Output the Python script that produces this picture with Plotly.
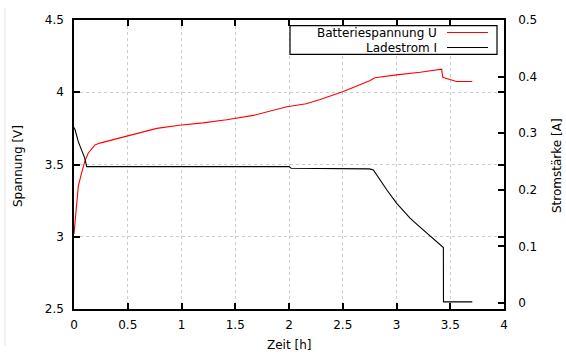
import plotly.graph_objects as go

# Data
zeit_u = [0.0, 0.01, 0.025, 0.04, 0.07, 0.10, 0.133, 0.165, 0.195, 0.24, 0.33, 0.43, 0.52,
          0.77, 0.98, 1.2, 1.42, 1.67, 1.98, 2.16, 2.29, 2.37, 2.505, 2.75, 2.80,
          3.0, 3.22, 3.42, 3.43, 3.48, 3.56, 3.705]
spannung = [3.02, 3.10, 3.23, 3.35, 3.44, 3.52, 3.58, 3.61, 3.635, 3.648, 3.665, 3.685, 3.70,
            3.75, 3.772, 3.788, 3.81, 3.84, 3.90, 3.92, 3.95, 3.972, 4.005, 4.08, 4.10,
            4.12, 4.138, 4.16, 4.103, 4.092, 4.074, 4.074]

zeit_i = [0.0, 0.01, 0.04, 0.07, 0.10, 0.118, 2.0, 2.02, 2.75, 2.785, 2.85, 2.909, 3.002,
          3.06, 3.126, 3.19, 3.25, 3.34, 3.436, 3.437, 3.705]
strom = [0.31, 0.306, 0.285, 0.27, 0.256, 0.241, 0.241, 0.238, 0.237, 0.235, 0.216, 0.200,
         0.176, 0.163, 0.150, 0.139, 0.129, 0.113, 0.098, 0.002, 0.002]

x_ticks = [0, 0.5, 1, 1.5, 2, 2.5, 3, 3.5, 4]
y_ticks = [2.5, 3, 3.5, 4, 4.5]
y2_ticks = [0, 0.1, 0.2, 0.3, 0.4, 0.5]
name_u = "Batteriespannung U"
name_i = "Ladestrom I"

W, H = 566, 354
L, R, T, B = 74, 62, 20, 45
pw, ph = W - L - R, H - T - B

def px(x):
    return (x - L) / pw

def py(y):
    return 1 - (y - T) / ph

FONT = "DejaVu Sans"

fig = go.Figure()
fig.add_trace(go.Scatter(x=zeit_u, y=spannung, mode="lines", name=name_u,
                         line=dict(color="#ff0000", width=1.1)))
fig.add_trace(go.Scatter(x=zeit_i, y=strom, mode="lines", name=name_i, yaxis="y2",
                         line=dict(color="#000000", width=1.1)))

axis_common = dict(showline=True, linecolor="black", linewidth=1.5, ticks="inside",
                   ticklen=6, tickwidth=1.5, tickcolor="black", zeroline=False,
                   tickfont=dict(family=FONT, size=12, color="black"))

fig.update_layout(
    width=W, height=H, margin=dict(l=L, r=R, t=T, b=B),
    paper_bgcolor="white", plot_bgcolor="white", showlegend=False,
    font=dict(family=FONT, size=12, color="black"),
    xaxis=dict(range=[0, 4], tickvals=x_ticks, ticktext=[f"{v:g}" for v in x_ticks],
               mirror="ticks", showgrid=True, gridcolor="#cccccc", griddash="dot",
               gridwidth=1, ticklabelstandoff=4, **axis_common),
    yaxis=dict(range=[2.5, 4.5], tickvals=y_ticks, ticktext=[f"{v:g}" for v in y_ticks],
               mirror="ticks", showgrid=True, gridcolor="#cccccc", griddash="dot",
               gridwidth=1, ticklabelstandoff=6, **axis_common),
    yaxis2=dict(range=[-0.0106, 0.5], tickvals=y2_ticks,
                ticktext=[f"{v:g}" for v in y2_ticks], overlaying="y", side="right",
                showgrid=False, ticklabelstandoff=10, **axis_common),
)

annotations = [
    dict(text="Zeit [h]", x=px(289), y=py(345), xref="paper", yref="paper",
         showarrow=False, xanchor="center", yanchor="middle", font=dict(size=12)),
    dict(text="Spannung [V]", x=px(18), y=py(166), xref="paper", yref="paper",
         showarrow=False, textangle=-90, xanchor="center", yanchor="middle",
         font=dict(size=12)),
    dict(text="Stromstärke [A]", x=px(557), y=py(166), xref="paper", yref="paper",
         showarrow=False, textangle=-90, xanchor="center", yanchor="middle",
         font=dict(size=12)),
    dict(text=name_u, x=px(439), y=py(32.5), xref="paper", yref="paper",
         showarrow=False, xanchor="right", yanchor="middle", font=dict(size=12)),
    dict(text=name_i, x=px(439), y=py(47.5), xref="paper", yref="paper",
         showarrow=False, xanchor="right", yanchor="middle", font=dict(size=12)),
]
fig.update_layout(annotations=annotations)

shapes = [
    dict(type="rect", xref="paper", yref="paper", x0=px(290), x1=px(497),
         y0=py(54.3), y1=py(25.7), line=dict(color="black", width=1.2),
         fillcolor="white", layer="above"),
    dict(type="line", xref="paper", yref="paper", x0=px(447), x1=px(488),
         y0=py(32.5), y1=py(32.5), line=dict(color="#ff0000", width=1.1)),
    dict(type="line", xref="paper", yref="paper", x0=px(447), x1=px(488),
         y0=py(47.5), y1=py(47.5), line=dict(color="black", width=1.1)),
    dict(type="line", xref="paper", yref="paper", x0=px(5), x1=px(5),
         y0=py(8), y1=py(346), line=dict(color="#e4e4e4", width=1)),
]
fig.update_layout(shapes=shapes)

fig.write_html("out.html")
